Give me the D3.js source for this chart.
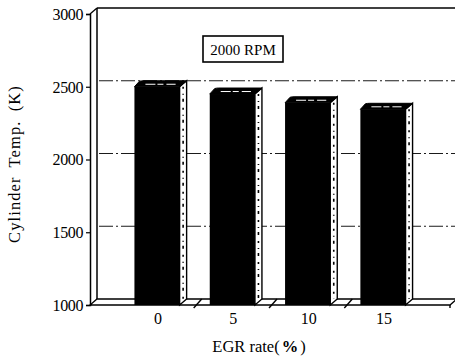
<!DOCTYPE html>
<html>
<head>
<meta charset="utf-8">
<script src="https://cdn.jsdelivr.net/npm/d3@7/dist/d3.min.js"></script>
<style>
  html, body { margin: 0; padding: 0; background: #fff; }
  svg { display: block; }
</style>
</head>
<body>
<svg id="chart" width="455" height="358"></svg>
<script>
// EGR rate categories and cylinder temperature at 2000 RPM
const categories = ["0", "5", "10", "15"];
const cylinderTemp = [2500, 2450, 2390, 2345];
const yTicks = [1000, 1500, 2000, 2500, 3000];
const gridValues = [1500, 2000, 2500];

const FONT = '"Liberation Serif"';
const svg = d3.select("#chart");
const W = 455, H = 358;

// plot frame (front plane) and 3-D depth offset
const plotL = 90, plotR = 450, plotT = 14, plotB = 305;
const dx = 7, dy = -6;

const x = d3.scaleBand().domain(categories).range([plotL, plotR])
  .paddingInner(0.4).paddingOuter(0.59);
const y = d3.scaleLinear().domain([1000, 3000]).range([plotB, plotT]);

// back wall
svg.append("rect")
  .attr("x", plotL + dx).attr("y", plotT + dy)
  .attr("width", W - (plotL + dx)).attr("height", plotB - plotT)
  .attr("fill", "#fff");

// dash-dot gridlines on the back wall
svg.append("g").selectAll("line").data(gridValues).join("line")
  .attr("x1", plotL + dx + 2).attr("x2", W)
  .attr("y1", d => y(d) + dy).attr("y2", d => y(d) + dy)
  .attr("stroke", "#000").attr("stroke-width", 0.9)
  .attr("stroke-dasharray", "14,3,2,3");

// top edge of back wall
svg.append("line")
  .attr("x1", plotL + dx).attr("x2", W)
  .attr("y1", y(3000) + dy).attr("y2", y(3000) + dy)
  .attr("stroke", "#000").attr("stroke-width", 1.5);

// left wall: back edge + connecting diagonal at top
svg.append("line")
  .attr("x1", plotL + dx).attr("x2", plotL + dx)
  .attr("y1", y(3000) + dy).attr("y2", y(1000) + dy)
  .attr("stroke", "#000").attr("stroke-width", 1.5);
svg.append("line")
  .attr("x1", plotL).attr("x2", plotL + dx)
  .attr("y1", y(3000)).attr("y2", y(3000) + dy)
  .attr("stroke", "#000").attr("stroke-width", 1.3);

// floor
svg.append("path")
  .attr("d", `M${plotL},${y(1000)} L${plotR},${y(1000)} L${plotR + dx},${y(1000) + dy} L${plotL + dx},${y(1000) + dy} Z`)
  .attr("fill", "#fff").attr("stroke", "#000").attr("stroke-width", 1.3);

// front y axis
const yAxis = d3.axisLeft(y).tickValues(yTicks).tickSize(4).tickPadding(3)
  .tickFormat(d3.format("d"));
const gy = svg.append("g").attr("transform", `translate(${plotL},0)`).call(yAxis)
  .attr("font-family", FONT).attr("font-size", 16);
gy.select(".domain").attr("stroke", "#000").attr("stroke-width", 1.5);
gy.selectAll(".tick line").attr("stroke", "#000").attr("stroke-width", 1.2);
gy.selectAll(".tick text")
  .attr("font-family", FONT).attr("font-size", 16)
  .attr("fill", "#000").attr("dy", "0.34em")
  .attr("letter-spacing", "-0.4");

// bars (front face, top face, side face)
const bw = x.bandwidth();
const bars = svg.append("g").selectAll("g").data(categories).join("g");

bars.append("path") // side face
  .attr("d", (c, i) => {
    const x0 = x(c) + bw, yt = y(cylinderTemp[i]), yb = y(1000);
    return `M${x0},${yt} L${x0 + dx},${yt + dy} L${x0 + dx},${yb + dy} L${x0},${yb} Z`;
  })
  .attr("fill", "#fff").attr("stroke", "#000").attr("stroke-width", 1.4);

bars.append("line") // speckled shading on the side face
  .attr("x1", c => x(c) + bw + dx / 2).attr("x2", c => x(c) + bw + dx / 2)
  .attr("y1", (c, i) => y(cylinderTemp[i]) + dy / 2 + 3)
  .attr("y2", y(1000) + dy / 2 - 3)
  .attr("stroke", "#000").attr("stroke-width", 1.6)
  .attr("stroke-dasharray", "2,5,1,4,3,6");

bars.append("path") // top face
  .attr("d", (c, i) => {
    const x0 = x(c), yt = y(cylinderTemp[i]);
    return `M${x0},${yt} L${x0 + dx - 2},${yt + dy + 0.5} Q${x0 + dx},${yt + dy} ${x0 + dx + 2},${yt + dy} L${x0 + bw + dx},${yt + dy} L${x0 + bw},${yt} Z`;
  })
  .attr("fill", "#000").attr("stroke", "#000").attr("stroke-width", 1);

bars.append("line") // highlight along the top face
  .attr("x1", c => x(c) + dx + 4).attr("x2", c => x(c) + bw - 4)
  .attr("y1", (c, i) => y(cylinderTemp[i]) + dy / 2 + 0.5)
  .attr("y2", (c, i) => y(cylinderTemp[i]) + dy / 2 + 0.5)
  .attr("stroke", "#fff").attr("stroke-width", 1).attr("stroke-dasharray", "10,2,6,3");

bars.append("rect") // front face
  .attr("x", c => x(c)).attr("width", bw)
  .attr("y", (c, i) => y(cylinderTemp[i]))
  .attr("height", (c, i) => y(1000) - y(cylinderTemp[i]))
  .attr("fill", "#000");

// x axis: category labels and dividing ticks on the floor
const gap = x.step() - bw;
const dividers = categories.slice(0, -1).map(c => x(c) + bw + gap / 2);
svg.append("g").selectAll("line").data(dividers).join("line")
  .attr("x1", d => d - 1).attr("x2", d => d + dx)
  .attr("y1", y(1000) + 3).attr("y2", y(1000) + dy)
  .attr("stroke", "#000").attr("stroke-width", 1.4);
svg.append("line")
  .attr("x1", plotR).attr("x2", plotR).attr("y1", y(1000)).attr("y2", y(1000) + 3)
  .attr("stroke", "#000").attr("stroke-width", 1.4);

svg.append("g").selectAll("text").data(categories).join("text")
  .attr("x", c => x(c) + bw / 2 + 1).attr("y", 324)
  .attr("text-anchor", "middle")
  .attr("font-family", FONT).attr("font-size", 16)
  .text(c => c);

// axis titles
const xt = svg.append("text").attr("x", 259).attr("y", 352)
  .attr("text-anchor", "middle")
  .attr("font-family", FONT).attr("font-size", 16.5);
xt.append("tspan").text("EGR rate(");
xt.append("tspan").attr("font-weight", "bold").attr("dx", 2).text("%");
xt.append("tspan").attr("dx", 2).text(")");

svg.append("text")
  .attr("transform", "translate(20,164) rotate(-90)")
  .attr("text-anchor", "middle")
  .attr("font-family", FONT).attr("font-size", 16.5)
  .attr("letter-spacing", 1.1).attr("word-spacing", 4)
  .text("Cylinder Temp. (K)");

// speed label box
svg.append("rect").attr("x", 203).attr("y", 36).attr("width", 80).attr("height", 26)
  .attr("fill", "#fff").attr("stroke", "#000").attr("stroke-width", 1.6);
svg.append("text").attr("x", 243).attr("y", 55).attr("text-anchor", "middle")
  .attr("font-family", FONT).attr("font-size", 15)
  .text("2000 RPM");
</script>
</body>
</html>
